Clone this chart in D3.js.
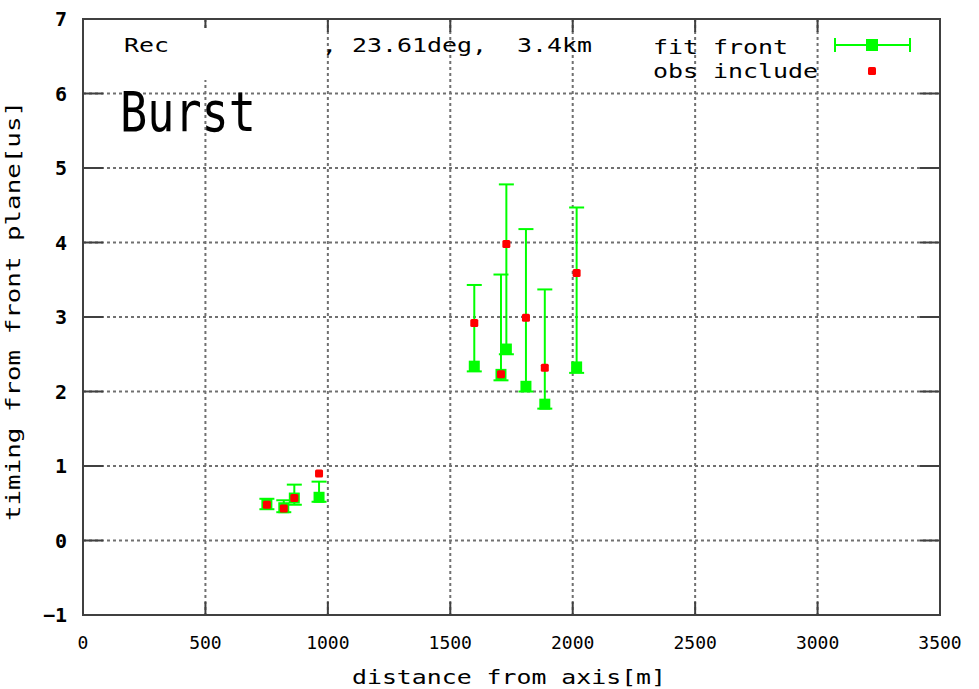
<!DOCTYPE html>
<html>
<head>
<meta charset="utf-8">
<script src="https://cdn.jsdelivr.net/npm/d3@7"></script>
<style>
  body { margin: 0; background: #fff; }
  text { font-family: "DejaVu Sans Mono", monospace; fill: #000; }
</style>
</head>
<body>
<div id="chart"></div>
<script>
// data
var distance = [751, 820, 863, 964, 1598, 1707, 1729, 1809, 1886, 2016];
var fitTime = [0.49, 0.44, 0.57, 0.58, 2.34, 2.23, 2.57, 2.07, 1.83, 2.33];
var errLow = [0.42, 0.38, 0.48, 0.52, 2.27, 2.15, 2.50, 2.00, 1.77, 2.25];
var errHigh = [0.56, 0.54, 0.75, 0.79, 3.43, 3.57, 4.78, 4.18, 3.37, 4.47];
var obsTime = [0.48, 0.43, 0.57, 0.90, 2.92, 2.23, 3.98, 2.99, 2.32, 3.59];
var xTicks = [0, 500, 1000, 1500, 2000, 2500, 3000, 3500];
var yTicks = [-1, 0, 1, 2, 3, 4, 5, 6, 7];

var W = 979, H = 689;
var margin = {top: 19, right: 39, bottom: 74, left: 83},
    width = W - margin.left - margin.right,
    height = H - margin.top - margin.bottom;

var svgRoot = d3.select("#chart").append("svg")
    .attr("width", W).attr("height", H);
svgRoot.append("rect").attr("width", W).attr("height", H).attr("fill", "#fff");

var svg = svgRoot.append("g")
    .attr("transform", "translate(" + margin.left + "," + margin.top + ")");

var x = d3.scaleLinear().domain([0, 3500]).range([0, width]);
var y = d3.scaleLinear().domain([-1, 7]).range([height, 0]);

// grid
svg.append("g").selectAll("line")
    .data(xTicks.slice(1, -1)).enter().append("line")
    .attr("x1", d => x(d)).attr("x2", d => x(d))
    .attr("y1", 0).attr("y2", height)
    .attr("stroke", "#707070").attr("stroke-width", 2)
    .attr("stroke-dasharray", "3,3");
svg.append("g").selectAll("line")
    .data(yTicks.slice(1, -1)).enter().append("line")
    .attr("y1", d => y(d)).attr("y2", d => y(d))
    .attr("x1", 0).attr("x2", width)
    .attr("stroke", "#707070").attr("stroke-width", 2)
    .attr("stroke-dasharray", "3,3");

// ticks, all four sides, pointing in
var tickX = 13, tickY = 20;
var ticks = svg.append("g").attr("stroke", "#404040").attr("stroke-width", 2);
xTicks.forEach(function(d) {
    ticks.append("line").attr("x1", x(d)).attr("x2", x(d)).attr("y1", height).attr("y2", height - tickX);
    ticks.append("line").attr("x1", x(d)).attr("x2", x(d)).attr("y1", 0).attr("y2", tickX);
});
yTicks.forEach(function(d) {
    ticks.append("line").attr("y1", y(d)).attr("y2", y(d)).attr("x1", 0).attr("x2", tickY);
    ticks.append("line").attr("y1", y(d)).attr("y2", y(d)).attr("x1", width).attr("x2", width - tickY);
});

// redacted part of the title
svgRoot.append("rect").attr("x", 195).attr("y", 28).attr("width", 127).attr("height", 52).attr("fill", "#fff");

// frame
svg.append("rect").attr("width", width).attr("height", height)
    .attr("fill", "none").attr("stroke", "#404040").attr("stroke-width", 2);

// tick labels
svg.append("g").selectAll("text")
    .data(xTicks).enter().append("text")
    .attr("x", d => x(d)).attr("y", height + 34)
    .attr("text-anchor", "middle").attr("font-size", 18)
    .text(d => d);
svg.append("g").selectAll("text")
    .data(yTicks).enter().append("text")
    .attr("x", -16).attr("y", d => y(d) + 7)
    .attr("text-anchor", "end").attr("font-size", 20).attr("font-weight", "bold")
    .text(d => d < 0 ? "\u2212" + Math.abs(d) : d);

// axis titles
svgRoot.append("text")
    .attr("x", 509).attr("y", 684)
    .attr("text-anchor", "middle").attr("font-size", 20)
    .attr("textLength", 314).attr("lengthAdjust", "spacingAndGlyphs")
    .text("distance from axis[m]");
svgRoot.append("text")
    .attr("transform", "translate(20,311) rotate(-90)")
    .attr("text-anchor", "middle").attr("font-size", 20)
    .attr("textLength", 420).attr("lengthAdjust", "spacingAndGlyphs")
    .text("timing from front plane[us]");

// title pieces
svgRoot.append("text").attr("x", 124).attr("y", 52).attr("font-size", 20)
    .attr("textLength", 45).attr("lengthAdjust", "spacingAndGlyphs").text("Rec");
svgRoot.append("text").attr("x", 322).attr("y", 52).attr("font-size", 20)
    .attr("textLength", 270).attr("lengthAdjust", "spacingAndGlyphs")
    .attr("xml:space", "preserve").style("white-space", "pre")
    .text(", 23.61deg,  3.4km");
svgRoot.append("text").attr("x", 120).attr("y", 131)
    .attr("font-size", 56)
    .attr("textLength", 136).attr("lengthAdjust", "spacingAndGlyphs").text("Burst");

// legend
svgRoot.append("text").attr("x", 653).attr("y", 54).attr("font-size", 20)
    .attr("textLength", 135).attr("lengthAdjust", "spacingAndGlyphs").text("fit front");
svgRoot.append("text").attr("x", 653).attr("y", 78).attr("font-size", 20)
    .attr("textLength", 165).attr("lengthAdjust", "spacingAndGlyphs").text("obs include");
var lg = svgRoot.append("g").attr("stroke", "#00ff00").attr("stroke-width", 2);
lg.append("line").attr("x1", 835).attr("x2", 910).attr("y1", 45).attr("y2", 45);
lg.append("line").attr("x1", 835).attr("x2", 835).attr("y1", 38).attr("y2", 52);
lg.append("line").attr("x1", 910).attr("x2", 910).attr("y1", 38).attr("y2", 52);
svgRoot.append("rect").attr("x", 866).attr("y", 39).attr("width", 12).attr("height", 12).attr("fill", "#00ff00");
svgRoot.append("rect").attr("x", 868).attr("y", 67).attr("width", 8).attr("height", 8).attr("rx", 1.5).attr("fill", "#ff0000");

// data
var idx = d3.range(distance.length);
var capW = 7.5, sq = 11, rs = 8;
var eb = svg.append("g").attr("stroke", "#00ff00").attr("stroke-width", 2);
eb.selectAll(".v").data(idx).enter().append("line")
    .attr("x1", i => x(distance[i])).attr("x2", i => x(distance[i]))
    .attr("y1", i => y(errLow[i])).attr("y2", i => y(errHigh[i]));
eb.selectAll(".hi").data(idx).enter().append("line")
    .attr("x1", i => x(distance[i]) - capW).attr("x2", i => x(distance[i]) + capW)
    .attr("y1", i => y(errHigh[i])).attr("y2", i => y(errHigh[i]));
eb.selectAll(".lo").data(idx).enter().append("line")
    .attr("x1", i => x(distance[i]) - capW).attr("x2", i => x(distance[i]) + capW)
    .attr("y1", i => y(errLow[i])).attr("y2", i => y(errLow[i]));

svg.append("g").selectAll("rect").data(idx).enter().append("rect")
    .attr("x", i => x(distance[i]) - sq / 2).attr("y", i => y(fitTime[i]) - sq / 2)
    .attr("width", sq).attr("height", sq).attr("fill", "#00ff00");

svg.append("g").selectAll("rect").data(idx).enter().append("rect")
    .attr("x", i => x(distance[i]) - rs / 2).attr("y", i => y(obsTime[i]) - rs / 2)
    .attr("width", rs).attr("height", rs).attr("rx", 1.5).attr("fill", "#ff0000");
</script>
</body>
</html>
